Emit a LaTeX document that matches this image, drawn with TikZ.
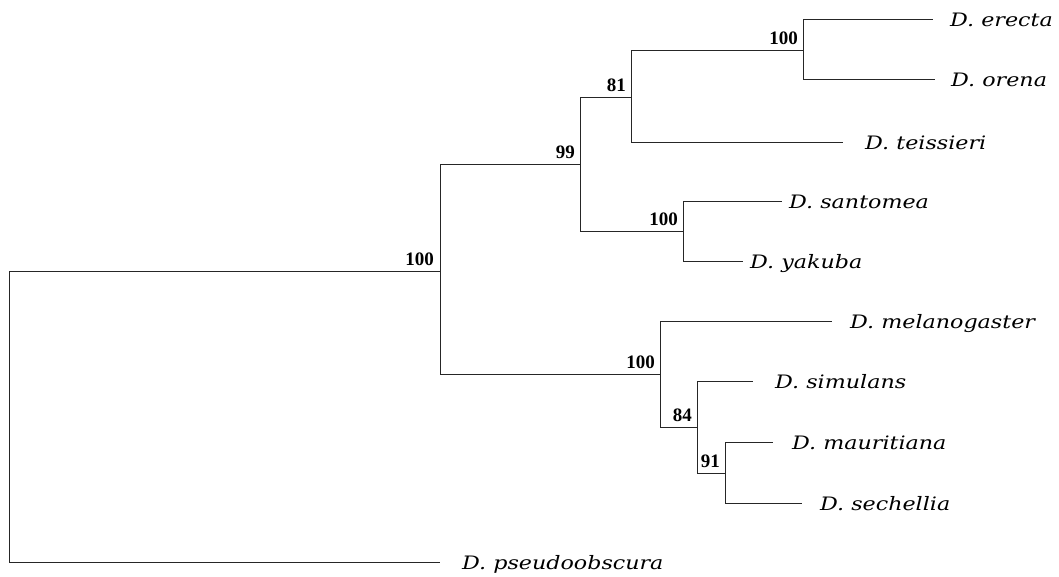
\documentclass[tikz,border=0pt]{standalone}
\usepackage{fontspec}
\setmainfont{Liberation Serif}
\newfontfamily\taxonfont[FakeStretch=1.2]{DejaVu Serif}
\tikzset{
  branch/.style={line width=1pt, black!85},
  taxon/.style={anchor=base west, inner sep=0pt, font=\taxonfont\itshape\fontsize{18.5}{20}\selectfont},
  boot/.style={anchor=south east, inner sep=0pt, font=\bfseries\fontsize{19}{21}\selectfont}
}

\begin{document}
\begin{tikzpicture}[x=1pt, y=-1pt]
  \useasboundingbox (0,0) rectangle (1059,576);
  %%%%% START %%%%%
  % inner nodes of the tree
  \coordinate (root) at (9, 416);
  \coordinate (mel)  at (440, 271);
  \coordinate (yak)  at (580, 164);
  \coordinate (ere)  at (631, 97);
  \coordinate (eo)   at (803, 50);
  \coordinate (sy)   at (683, 231);
  \coordinate (msub) at (660, 374);
  \coordinate (sim)  at (697, 427);
  \coordinate (ms)   at (725, 473);

  % branch tips
  \coordinate (t-ere) at (933, 19);
  \coordinate (t-ore) at (935, 79);
  \coordinate (t-tei) at (843, 142);
  \coordinate (t-san) at (782, 201);
  \coordinate (t-yak) at (743, 261);
  \coordinate (t-mel) at (832, 321);
  \coordinate (t-sim) at (753, 381);
  \coordinate (t-mau) at (773, 442);
  \coordinate (t-sec) at (802, 503);
  \coordinate (t-pse) at (440, 562);

  % species names
  \node[taxon] (n-ere) at (950, 26)  {D. erecta};
  \node[taxon] (n-ore) at (951, 86)  {D. orena};
  \node[taxon] (n-tei) at (865, 149) {D. teissieri};
  \node[taxon] (n-san) at (789, 208) {D. santomea};
  \node[taxon] (n-yak) at (750, 268) {D. yakuba};
  \node[taxon] (n-mel) at (850, 328) {D. melanogaster};
  \node[taxon] (n-sim) at (775, 388) {D. simulans};
  \node[taxon] (n-mau) at (792, 449) {D. mauritiana};
  \node[taxon] (n-sec) at (820, 510) {D. sechellia};
  \node[taxon] (n-pse) at (462, 569) {D. pseudoobscura};

  % branches
  \draw[branch] (root) |- (mel);
  \draw[branch] (root) |- (t-pse);
  \draw[branch] (mel) |- (yak);
  \draw[branch] (mel) |- (msub);
  \draw[branch] (yak) |- (ere);
  \draw[branch] (yak) |- (sy);
  \draw[branch] (ere) |- (eo);
  \draw[branch] (ere) |- (t-tei);
  \draw[branch] (eo) |- (t-ere);
  \draw[branch] (eo) |- (t-ore);
  \draw[branch] (sy) |- (t-san);
  \draw[branch] (sy) |- (t-yak);
  \draw[branch] (msub) |- (t-mel);
  \draw[branch] (msub) |- (sim);
  \draw[branch] (sim) |- (t-sim);
  \draw[branch] (sim) |- (ms);
  \draw[branch] (ms) |- (t-mau);
  \draw[branch] (ms) |- (t-sec);

  % bootstrap values
  \node[boot] (b-mel)  at ([shift={(-6,-5)}]mel)  {100};
  \node[boot] (b-yak)  at ([shift={(-5,-5)}]yak)  {99};
  \node[boot] (b-ere)  at ([shift={(-5,-5)}]ere)  {81};
  \node[boot] (b-eo)   at ([shift={(-5,-5)}]eo)   {100};
  \node[boot] (b-sy)   at ([shift={(-5,-5)}]sy)   {100};
  \node[boot] (b-msub) at ([shift={(-5,-5)}]msub) {100};
  \node[boot] (b-sim)  at ([shift={(-5,-5)}]sim)  {84};
  \node[boot] (b-ms)   at ([shift={(-5,-5)}]ms)   {91};
  %%%%% END %%%%%
\end{tikzpicture}
\end{document}
